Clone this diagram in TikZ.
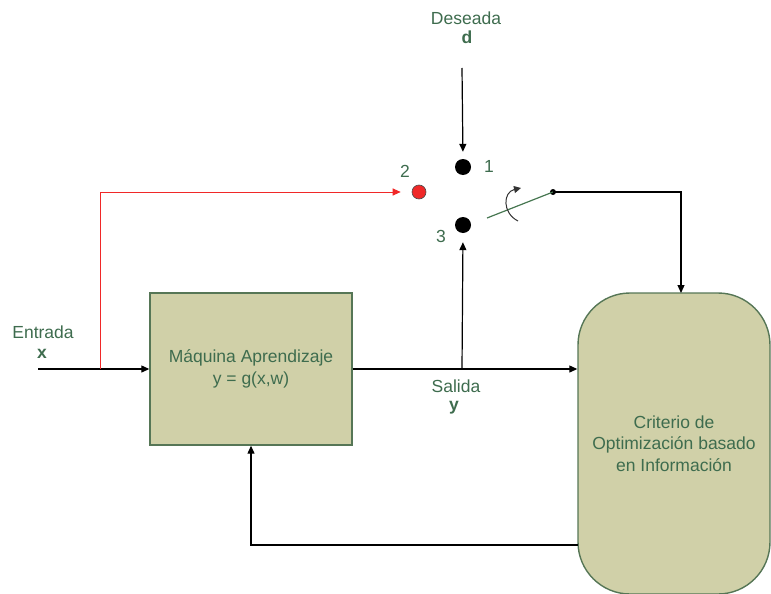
\documentclass[tikz,border=0pt]{standalone}
\usepackage{fontspec}
\setmainfont{Liberation Sans}
\usetikzlibrary{arrows.meta}
\definecolor{boxfill}{RGB}{208,208,168}
\definecolor{boxline}{RGB}{86,118,86}
\definecolor{labelgreen}{RGB}{62,108,78}
\definecolor{switchgreen}{RGB}{70,118,80}
\definecolor{sigred}{RGB}{240,40,40}
\begin{document}
\begin{tikzpicture}[x=1pt,y=-1pt,
  lbl/.style={text=labelgreen, font=\fontsize{17.5}{21}\selectfont, inner sep=0pt, anchor=base},
  boldlbl/.style={lbl, font=\fontsize{17.5}{21}\selectfont\bfseries},
  blocktext/.style={text=labelgreen, font=\fontsize{17.5}{21.5}\selectfont, align=center},
  block/.style={draw=boxline, fill=boxfill, line width=1.4pt, inner sep=0pt},
  tip/.style={-{Triangle[length=8pt,width=7pt]}},
  wire/.style={line width=1.2pt, black, tip},
  dot/.style={circle, fill=black, inner sep=0pt, minimum size=16pt},
]
\useasboundingbox (0,0) rectangle (771,594);
\clip (0,0) rectangle (771,594);

% blocks
\node[block, minimum width=202pt, minimum height=152pt, blocktext] (mach) at (251,369)
  {Máquina Aprendizaje\\y = g(x,w)};
\node[block, rounded corners=52pt, minimum width=192pt, minimum height=301pt, blocktext] (crit) at (674,443.5)
  {Criterio de\\Optimización basado\\en Información};

% switch contacts
\node[dot] (d1) at (463,167) {};
\node[circle, fill=sigred, draw=black!70, line width=0.6pt, inner sep=0pt, minimum size=14pt] (d2) at (419,192) {};
\node[dot] (d3) at (463,225) {};
\node[circle, fill=black, inner sep=0pt, minimum size=6pt] (pivot) at (553,192) {};

% labels
\node[lbl] (lblDes) at (466,25) {Deseada};
\node[boldlbl] (lbld) at (467,44) {d};
\node[lbl] (lblEnt) at (43,338) {Entrada};
\node[boldlbl] (lblx) at (42,358) {x};
\node[lbl] (lblSal) at (456,392) {Salida};
\node[boldlbl] (lbly) at (454,410) {y};
\node[lbl] (n1) at (489,172) {1};
\node[lbl] (n2) at (405,177) {2};
\node[lbl] (n3) at (441,242) {3};

% free ends and junctions
\coordinate (xin) at (38,369);
\coordinate (tap) at (100,369);
\coordinate (dtop) at (462,68);
\coordinate (br) at (462,369);
\coordinate (fb) at (578,545);
\coordinate (swEnd) at (487,218);
\coordinate (critIn) at (681,293);
\coordinate (arcA) at (518,221);
\coordinate (arcB) at (521,188);

% signal paths
\draw[wire] (xin) -- (mach.west);
\draw[sigred, line width=1pt, tip, shorten >=11pt] (tap) |- (d2.west);
\draw[wire] (mach.east) -- (mach.east -| crit.west);
\draw[wire, shorten >=9pt] (br) -- (d3.south);
\draw[wire, shorten >=7pt] (dtop) -- (d1.north);
\draw[wire] (fb) -| (mach.south);

% switch arm, turning arrow, and output to the criterion block
\draw[switchgreen, line width=1.2pt] (swEnd) -- (pivot.center);
\draw[line width=1pt, black!80, -{Triangle[length=7pt,width=7pt]}]
  (arcA) .. controls (502,213) and (503,192) .. (arcB);
\draw[wire] (pivot.center) -| (critIn);
\end{tikzpicture}
\end{document}
